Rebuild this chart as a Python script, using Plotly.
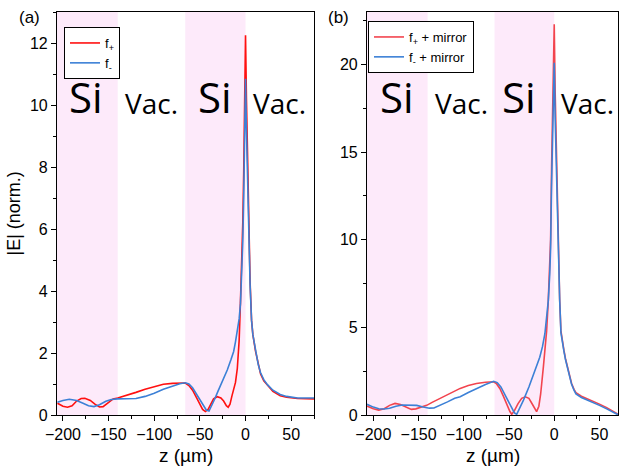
import plotly.graph_objects as go

# ---------------- data ----------------
# Panel (a)
za_red = [-206, -200, -195, -190, -185, -180, -176, -170, -165, -160, -156, -150, -145, -140,
          -130, -120, -110, -100, -90, -80, -70, -66, -62, -58, -54, -50, -47, -44, -41, -38,
          -35, -31, -27, -24, -21, -19, -17, -15, -13, -11, -9, -7, -5.5, -4, -3, -2, -1, 0,
          1, 2, 3, 4, 5, 6.6, 8, 11, 14, 16.5, 20, 24, 30, 38, 45, 57, 75]
ea_red = [0.38, 0.28, 0.25, 0.30, 0.45, 0.53, 0.54, 0.47, 0.35, 0.26, 0.27, 0.42, 0.52, 0.55,
          0.63, 0.73, 0.83, 0.92, 0.99, 1.02, 1.04, 1.03, 0.95, 0.80, 0.58, 0.35, 0.18, 0.11, 0.18, 0.35,
          0.52, 0.59, 0.55, 0.45, 0.30, 0.25, 0.35, 0.60, 0.85, 1.05, 1.5, 2.4, 3.7, 5.0, 6.2, 7.8, 9.8, 12.25,
          10.2, 8.6, 7.3, 5.7, 4.3, 3.06, 2.6, 2.05, 1.6, 1.32, 1.1, 0.95, 0.76, 0.62, 0.57, 0.53, 0.52]

za_blue = [-206, -200, -193, -185, -178, -172, -166, -160, -153, -147, -140, -130, -120, -110,
           -100, -90, -80, -72, -66, -62, -58, -54, -50, -46, -43, -40, -37, -34, -30, -25, -20,
           -16, -13, -11, -9, -7, -5.5, -4, -3, -2, -1, 0, 1, 2, 3, 4, 5, 6.6, 8, 11, 14, 16.5,
           20, 24, 30, 38, 45, 57, 75]
ea_blue = [0.41, 0.47, 0.51, 0.47, 0.38, 0.30, 0.27, 0.33, 0.44, 0.50, 0.52, 0.52, 0.53, 0.60,
           0.70, 0.83, 0.94, 1.01, 1.04, 1.00, 0.88, 0.68, 0.47, 0.28, 0.16, 0.13, 0.30, 0.50, 0.78, 1.10, 1.45,
           1.78, 2.05, 2.36, 2.7, 3.1, 3.6, 4.6, 5.6, 7.0, 8.9, 10.85, 9.2, 7.8, 6.6, 5.3, 4.2, 3.06, 2.6, 2.1, 1.62, 1.36,
           1.14, 0.98, 0.80, 0.66, 0.60, 0.55, 0.55]

# Panel (b)
zb_red = [-207, -200, -194, -188, -182, -176, -170, -164, -158, -153, -147, -141, -135, -128,
          -122, -112, -104, -95, -86, -76, -67, -64, -60, -56, -52, -49, -47, -44, -40, -36, -32,
          -28, -24, -21, -19.5, -17, -15, -12, -10, -8.4, -6.6, -5, -4, -2.9, -2, -1, 0,
          1, 2, 3, 4, 5, 6, 7.4, 9, 10.7, 12.5, 14.4, 17, 19.2, 22, 24, 30, 39.4, 50, 58, 65, 71]
eb_red = [0.51, 0.36, 0.28, 0.36, 0.55, 0.66, 0.60, 0.45, 0.32, 0.35, 0.45, 0.55, 0.72, 0.90,
          1.05, 1.32, 1.52, 1.68, 1.80, 1.87, 1.90, 1.80, 1.50, 1.05, 0.55, 0.20, 0.04, 0.25, 0.65, 0.95, 1.04,
          0.95, 0.60, 0.28, 0.19, 0.50, 1.20, 2.75, 3.7, 4.8, 6.5, 8.5, 10.0, 14.2, 16.5, 19.5, 22.3,
          18.5, 15.8, 13.0, 10.5, 8.2, 6.6, 4.8, 4.1, 3.7, 3.2, 2.75, 2.2, 1.8, 1.45, 1.27, 1.07, 0.88, 0.62, 0.42, 0.22, 0.03]

zb_blue = [-207, -200, -194, -188, -182, -175, -168, -160, -152, -145, -138, -133, -126, -118,
           -110, -104, -95, -86, -76, -67, -63, -59, -55, -51, -47, -44, -41.5, -38, -34, -28, -22,
           -16, -13, -10.3, -8, -6.6, -5, -4, -3, -2, -1, 0, 1, 2, 3, 4, 5, 6, 7.4, 9, 10.7, 12.5,
           14.4, 17, 19.2, 22, 24, 30, 39.4, 50, 58, 65, 71]
eb_blue = [0.61, 0.45, 0.36, 0.34, 0.38, 0.50, 0.57, 0.57, 0.55, 0.46, 0.39, 0.40, 0.55, 0.75,
           0.95, 1.04, 1.28, 1.52, 1.74, 1.92, 1.85, 1.60, 1.20, 0.75, 0.35, 0.12, 0.04, 0.40, 0.85, 1.6, 2.4,
           3.3, 3.9, 4.65, 5.8, 6.5, 8.0, 9.5, 13.0, 15.5, 17.8, 20.1, 17.0, 14.8, 12.6, 10.3, 8.2, 6.6, 4.7, 4.1, 3.65, 3.15,
           2.7, 2.15, 1.75, 1.4, 1.2, 1.0, 0.8, 0.55, 0.35, 0.16, 0.0]

si_regions = [(-210, -140), (-66, 0)]
region_labels = ["Si", "Vac.", "Si", "Vac."]
label_z_a = [-175, -103, -33, 37]
label_z_b = [-174, -103, -39, 37]

x_ticks = [-200, -150, -100, -50, 0, 50]

# ---------------- styles ----------------
RED_A = "#FF1010"
BLUE = "#3C80D6"
RED_B = "#F2444E"
PINK = "rgb(253,234,250)"
TICKFONT = dict(family="Arial, Liberation Sans, sans-serif", size=16, color="black")
W, H = 619, 470
L, R, T, B = 0, 0, 12, 55
PH = H - T - B

fig = go.Figure()
fig.add_trace(go.Scatter(x=za_red, y=ea_red, mode="lines", name="f<sub>+</sub>",
                         line=dict(color=RED_A, width=1.6), xaxis="x", yaxis="y", legend="legend"))
fig.add_trace(go.Scatter(x=za_blue, y=ea_blue, mode="lines", name="f<sub>-</sub>",
                         line=dict(color=BLUE, width=1.6), xaxis="x", yaxis="y", legend="legend"))
fig.add_trace(go.Scatter(x=zb_red, y=eb_red, mode="lines", name="f<sub>+</sub> + mirror",
                         line=dict(color=RED_B, width=1.6), xaxis="x2", yaxis="y2", legend="legend2"))
fig.add_trace(go.Scatter(x=zb_blue, y=eb_blue, mode="lines", name="f<sub>-</sub> + mirror",
                         line=dict(color=BLUE, width=1.6), xaxis="x2", yaxis="y2", legend="legend2"))

shapes = []
for xr in ["x", "x2"]:
    for (a, b) in si_regions:
        shapes.append(dict(type="rect", xref=xr, yref=("y domain" if xr == "x" else "y2 domain"),
                           x0=a, x1=b, y0=0, y1=1, fillcolor=PINK, line=dict(width=0), layer="below"))

annotations = []
for i, (lab, za, zb) in enumerate(zip(region_labels, label_z_a, label_z_b)):
    big = lab == "Si"
    fs = 42 if big else 28
    yy = 0.79 if big else 0.775
    for xr, yr, zz in [("x", "y domain", za), ("x2", "y2 domain", zb)]:
        annotations.append(dict(text=lab, x=zz, y=yy, xref=xr, yref=yr, showarrow=False,
                                xanchor="center", yanchor="middle",
                                font=dict(family="Open Sans, sans-serif", size=fs, color="black")))

def px_x(p):
    return p / W

def px_y(p):
    return (H - B - p) / PH

annotations += [
    dict(text="(a)", x=px_x(29), y=px_y(17), xref="paper", yref="paper", showarrow=False,
         xanchor="center", yanchor="middle", font=dict(family="Arial, Liberation Sans", size=17, color="black")),
    dict(text="(b)", x=px_x(338), y=px_y(17), xref="paper", yref="paper", showarrow=False,
         xanchor="center", yanchor="middle", font=dict(family="Arial, Liberation Sans", size=17, color="black")),
    dict(text="z (µm)", x=px_x(185.5), y=px_y(455), xref="paper", yref="paper", showarrow=False,
         xanchor="center", yanchor="middle", font=dict(family="Arial, Liberation Sans", size=19, color="black")),
    dict(text="z (µm)", x=px_x(492.5), y=px_y(455), xref="paper", yref="paper", showarrow=False,
         xanchor="center", yanchor="middle", font=dict(family="Arial, Liberation Sans", size=19, color="black")),
    dict(text="|E| (norm.)", x=px_x(13), y=0.5, xref="paper", yref="paper", showarrow=False,
         textangle=-90, xanchor="center", yanchor="middle",
         font=dict(family="Arial, Liberation Sans", size=18, color="black")),
]

axis_common = dict(showline=True, linecolor="black", linewidth=1.2, mirror=True, ticks="outside",
                   ticklen=5, tickwidth=1, tickcolor="black", showgrid=False, zeroline=False,
                   tickfont=TICKFONT, automargin=False)

fig.update_layout(
    width=W, height=H, margin=dict(l=L, r=R, t=T, b=B, autoexpand=False),
    plot_bgcolor="white", paper_bgcolor="white",
    xaxis=dict(domain=[57 / W, 314 / W], range=[-206.5, 75], tickvals=x_ticks,
               minor=dict(ticks="outside", ticklen=3, dtick=25, tick0=0, tickcolor="black"),
               anchor="y", **axis_common),
    yaxis=dict(domain=[0, 1], range=[0, 13], dtick=2, tick0=0,
               minor=dict(ticks="outside", ticklen=3, dtick=1, tick0=0, tickcolor="black"),
               anchor="x", **axis_common),
    xaxis2=dict(domain=[367 / W, 618 / W], range=[-207, 70.5], tickvals=x_ticks,
                minor=dict(ticks="outside", ticklen=3, dtick=25, tick0=0, tickcolor="black"),
                anchor="y2", **axis_common),
    yaxis2=dict(domain=[0, 1], range=[0, 23], dtick=5, tick0=0,
                minor=dict(ticks="outside", ticklen=3, dtick=2.5, tick0=0, tickcolor="black"),
                anchor="x2", **axis_common),
    shapes=shapes,
    annotations=annotations,
    legend=dict(x=px_x(64), y=px_y(27), xanchor="left", yanchor="top", bgcolor="white",
                bordercolor="black", borderwidth=1, tracegroupgap=0,
                font=dict(family="Arial, Liberation Sans", size=13, color="black")),
    legend2=dict(x=px_x(368), y=px_y(21), xanchor="left", yanchor="top", bgcolor="white",
                 bordercolor="black", borderwidth=1, tracegroupgap=0,
                 font=dict(family="Arial, Liberation Sans", size=13, color="black")),
    showlegend=True,
)

fig.write_html("out.html", config={"displayModeBar": False},
               post_script="document.body.style.margin='0';")
